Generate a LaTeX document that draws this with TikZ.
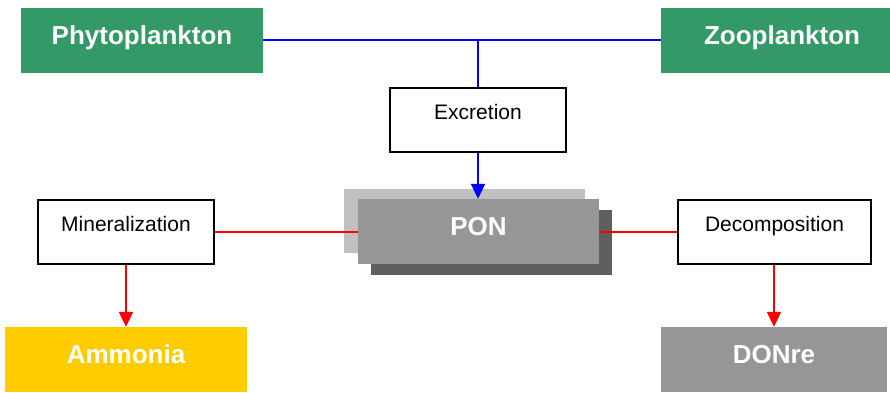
\documentclass[tikz,border=0pt]{standalone}
\usepackage{fontspec}
\setmainfont{Liberation Sans}
\usetikzlibrary{arrows.meta}
\definecolor{plgreen}{HTML}{339966}
\definecolor{amyellow}{HTML}{FFCC00}
\definecolor{midgrey}{HTML}{969696}
\definecolor{lightgrey}{HTML}{C0C0C0}
\definecolor{darkgrey}{HTML}{5F5F5F}
\definecolor{linkblue}{HTML}{0000FF}
\definecolor{linkred}{HTML}{FF0000}
\tikzset{
  bigbox/.style={rectangle, inner sep=0pt, minimum width=242pt, minimum height=65pt,
    text=white, font=\fontsize{26}{30}\selectfont\bfseries, text height=19pt, text depth=11pt},
  procbox/.style={rectangle, draw=black, line width=1.5pt, fill=white, inner sep=0pt,
    minimum height=64pt, font=\fontsize{21}{24}\selectfont, text height=15pt, text depth=17pt},
  shadowbox/.style={rectangle, inner sep=0pt, minimum width=241pt, minimum height=65pt},
  bluelink/.style={draw=linkblue, line width=2pt},
  redlink/.style={draw=linkred, line width=2pt},
  arrowtip/.style={-{Triangle[length=15pt,width=14pt]}}
}
\begin{document}
\begin{tikzpicture}[x=1pt,y=-1pt]
\useasboundingbox (0,0) rectangle (890,392);
\clip (0,0) rectangle (890,392);
% big coloured boxes
\node[bigbox, fill=plgreen] (phyto) at (142,40) {Phytoplankton};
\node[bigbox, fill=plgreen] (zoo) at (782,40) {Zooplankton};
\node[bigbox, fill=amyellow] (ammonia) at (126,359.5) {Ammonia};
\node[bigbox, fill=midgrey, minimum width=226pt] (donre) at (774,359.5) {DONre};
% PON with shadows
\node[shadowbox, fill=lightgrey, minimum height=64pt] (ponback) at (464.5,221) {};
\node[shadowbox, fill=darkgrey] (ponshadow) at (491.5,242.5) {};
% process boxes
\node[procbox, minimum width=176pt] (excr) at (478,120) {Excretion};
\node[procbox, minimum width=176pt] (mine) at (126,232) {Mineralization};
\node[procbox, minimum width=193pt] (decomp) at (774.5,232) {Decomposition};
% connectors
\coordinate (junc) at (478,40);
\draw[bluelink] (phyto.east) -- (zoo.west);
\draw[bluelink] (junc) -- (excr.north);
\draw[redlink] (mine.east) -- (464.5,232) coordinate (ponleft);
\draw[redlink] (decomp.west) -- (491.5,232) coordinate (ponright);
\node[shadowbox, fill=midgrey, text=white, font=\fontsize{26}{30}\selectfont\bfseries,
  text height=19pt, text depth=11pt] (pon) at (478.5,231.5) {PON};
\draw[bluelink, arrowtip] (excr.south -| junc) -- (pon.north -| junc);
\draw[redlink, arrowtip] (mine.south) -- (ammonia.north);
\draw[redlink, arrowtip] (donre.north |- decomp.south) -- (donre.north);
\end{tikzpicture}
\end{document}
